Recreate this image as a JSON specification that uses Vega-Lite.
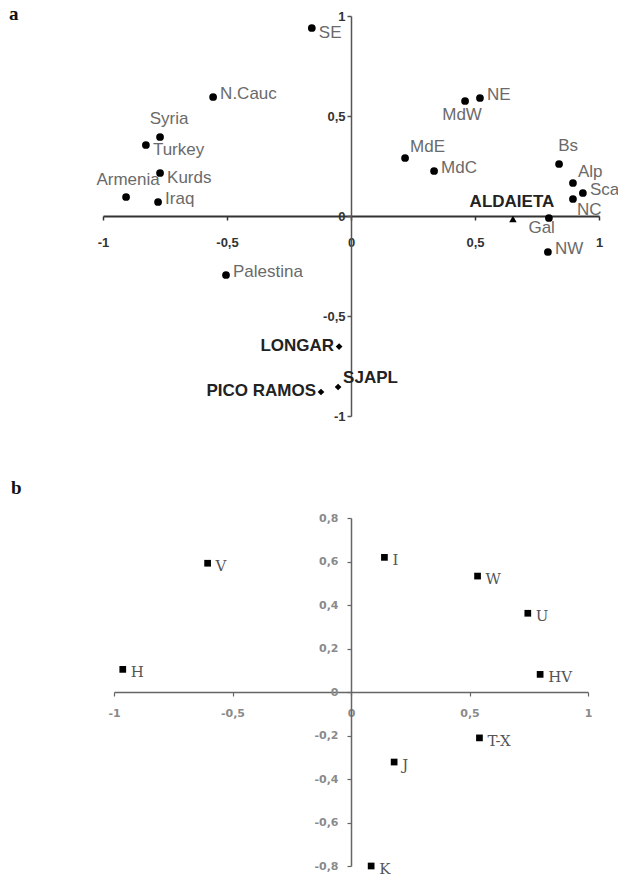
{
  "$schema": "https://vega.github.io/schema/vega-lite/v6.json",
  "background": "white",
  "padding": {"left": 9, "top": 5, "right": 0, "bottom": 0},
  "bounds": "flush",
  "center": true,
  "spacing": 102,
  "config": {"view": {"stroke": null}},
  "vconcat": [
    {
      "width": 496,
      "height": 400,
      "title": {"text": "a", "anchor": "start", "frame": "group", "orient": "top", "offset": 0, "dx": -94, "dy": 29, "baseline": "alphabetic", "font": "Liberation Serif", "fontSize": 19, "fontWeight": "bold", "color": "#111"},
      "data": {"values": [
        {"name": "SE", "x": -0.158, "y": 0.94, "grp": "pop"},
        {"name": "N.Cauc", "x": -0.556, "y": 0.595, "grp": "pop"},
        {"name": "Syria", "x": -0.77, "y": 0.395, "grp": "pop"},
        {"name": "Turkey", "x": -0.827, "y": 0.355, "grp": "pop"},
        {"name": "Kurds", "x": -0.77, "y": 0.215, "grp": "pop"},
        {"name": "Armenia", "x": -0.907, "y": 0.095, "grp": "pop"},
        {"name": "Iraq", "x": -0.778, "y": 0.07, "grp": "pop"},
        {"name": "Palestina", "x": -0.504, "y": -0.295, "grp": "pop"},
        {"name": "MdE", "x": 0.218, "y": 0.29, "grp": "pop"},
        {"name": "MdC", "x": 0.335, "y": 0.225, "grp": "pop"},
        {"name": "MdW", "x": 0.46, "y": 0.575, "grp": "pop"},
        {"name": "NE", "x": 0.52, "y": 0.59, "grp": "pop"},
        {"name": "Bs", "x": 0.839, "y": 0.26, "grp": "pop"},
        {"name": "Alp", "x": 0.895, "y": 0.165, "grp": "pop"},
        {"name": "Sca", "x": 0.935, "y": 0.115, "grp": "pop"},
        {"name": "NC", "x": 0.895, "y": 0.085, "grp": "pop"},
        {"name": "Gal", "x": 0.798, "y": -0.01, "grp": "pop"},
        {"name": "NW", "x": 0.794, "y": -0.18, "grp": "pop"},
        {"name": "ALDAIETA", "x": 0.653, "y": -0.015, "grp": "aldaieta"},
        {"name": "LONGAR", "x": -0.048, "y": -0.653, "grp": "site"},
        {"name": "PICO RAMOS", "x": -0.121, "y": -0.88, "grp": "site"},
        {"name": "SJAPL", "x": -0.052, "y": -0.855, "grp": "site"}
      ]},
      "encoding": {
        "x": {"field": "x", "type": "quantitative", "scale": {"domain": [-1, 1], "nice": false, "zero": false},
          "axis": {"orient": "bottom", "offset": -200, "values": [-1, -0.5, 0, 0.5, 1], "title": null, "grid": false,
            "domainColor": "#333", "domainWidth": 2, "tickColor": "#333", "tickWidth": 1.5, "tickSize": 4,
            "labelExpr": "replace(toString(datum.value), '.', ',')", "labelFont": "Liberation Sans", "labelFontSize": 13, "labelFontWeight": "bold", "labelColor": "#333",
            "labelPadding": 16, "labelFlush": false, "labelOverlap": false}},
        "y": {"field": "y", "type": "quantitative", "scale": {"domain": [-1, 1], "nice": false, "zero": false},
          "axis": {"orient": "left", "offset": -248, "values": [-1, -0.5, 0, 0.5, 1], "title": null, "grid": false,
            "domainColor": "#555", "domainWidth": 1.5, "tickColor": "#555", "tickWidth": 1.5, "tickSize": 4,
            "labelExpr": "replace(toString(datum.value), '.', ',')", "labelFont": "Liberation Sans", "labelFontSize": 13, "labelFontWeight": "bold", "labelColor": "#333",
            "labelPadding": 2, "labelFlush": false, "labelOverlap": false}}
      },
      "layer": [
        {"transform": [{"filter": "datum.grp == 'pop'"}], "mark": {"type": "point", "shape": "circle", "filled": true, "size": 60, "color": "#000", "opacity": 1}},
        {"transform": [{"filter": "datum.grp == 'aldaieta'"}], "mark": {"type": "point", "shape": "triangle-up", "filled": true, "size": 55, "color": "#000", "opacity": 1}},
        {"transform": [{"filter": "datum.grp == 'site'"}], "mark": {"type": "point", "shape": "diamond", "filled": true, "size": 45, "color": "#000", "opacity": 1}},
        {"transform": [{"filter": {"field": "name", "oneOf": ["N.Cauc", "Iraq", "Palestina", "MdC", "NE", "Sca", "NW"]}}],
          "mark": {"type": "text", "align": "left", "baseline": "middle", "dx": 7, "dy": -3, "font": "Liberation Sans", "fontSize": 17, "color": "#6a6a6a"},
          "encoding": {"text": {"field": "name"}}},
        {"transform": [{"filter": {"field": "name", "oneOf": ["SE", "Kurds", "Turkey"]}}],
          "mark": {"type": "text", "align": "left", "baseline": "middle", "dx": 7, "dy": 5, "font": "Liberation Sans", "fontSize": 17, "color": "#6a6a6a"},
          "encoding": {"text": {"field": "name"}}},
        {"transform": [{"filter": {"field": "name", "oneOf": ["MdE", "Alp"]}}],
          "mark": {"type": "text", "align": "left", "baseline": "middle", "dx": 5, "dy": -11, "font": "Liberation Sans", "fontSize": 17, "color": "#6a6a6a"},
          "encoding": {"text": {"field": "name"}}},
        {"transform": [{"filter": {"field": "name", "oneOf": ["NC"]}}],
          "mark": {"type": "text", "align": "left", "baseline": "middle", "dx": 4, "dy": 11, "font": "Liberation Sans", "fontSize": 17, "color": "#6a6a6a"},
          "encoding": {"text": {"field": "name"}}},
        {"transform": [{"filter": {"field": "name", "oneOf": ["Syria", "Bs"]}}],
          "mark": {"type": "text", "align": "center", "baseline": "middle", "dx": 9, "dy": -18, "font": "Liberation Sans", "fontSize": 17, "color": "#6a6a6a"},
          "encoding": {"text": {"field": "name"}}},
        {"transform": [{"filter": {"field": "name", "oneOf": ["Armenia"]}}],
          "mark": {"type": "text", "align": "center", "baseline": "middle", "dx": 2, "dy": -17, "font": "Liberation Sans", "fontSize": 17, "color": "#6a6a6a"},
          "encoding": {"text": {"field": "name"}}},
        {"transform": [{"filter": {"field": "name", "oneOf": ["MdW"]}}],
          "mark": {"type": "text", "align": "center", "baseline": "middle", "dx": -3, "dy": 14, "font": "Liberation Sans", "fontSize": 17, "color": "#6a6a6a"},
          "encoding": {"text": {"field": "name"}}},
        {"transform": [{"filter": {"field": "name", "oneOf": ["Gal"]}}],
          "mark": {"type": "text", "align": "right", "baseline": "middle", "dx": 6, "dy": 10, "font": "Liberation Sans", "fontSize": 17, "color": "#6a6a6a"},
          "encoding": {"text": {"field": "name"}}},
        {"transform": [{"filter": {"field": "name", "oneOf": ["LONGAR", "PICO RAMOS"]}}],
          "mark": {"type": "text", "align": "right", "baseline": "middle", "dx": -5, "dy": -1, "font": "Liberation Sans", "fontSize": 17, "fontWeight": "bold", "color": "#222"},
          "encoding": {"text": {"field": "name"}}},
        {"transform": [{"filter": {"field": "name", "oneOf": ["SJAPL"]}}],
          "mark": {"type": "text", "align": "left", "baseline": "middle", "dx": 5, "dy": -9, "font": "Liberation Sans", "fontSize": 17, "fontWeight": "bold", "color": "#222"},
          "encoding": {"text": {"field": "name"}}},
        {"transform": [{"filter": {"field": "name", "oneOf": ["ALDAIETA"]}}],
          "mark": {"type": "text", "align": "center", "baseline": "middle", "dx": -1, "dy": -17, "font": "Liberation Sans", "fontSize": 17, "fontWeight": "bold", "color": "#222"},
          "encoding": {"text": {"field": "name"}}}
      ]
    },
    {
      "width": 474,
      "height": 348,
      "title": {"text": "b", "anchor": "start", "frame": "group", "orient": "top", "offset": 0, "dx": -103, "dy": 1, "baseline": "alphabetic", "font": "Liberation Serif", "fontSize": 19, "fontWeight": "bold", "color": "#111"},
      "data": {"values": [
        {"name": "V", "x": -0.605, "y": 0.592},
        {"name": "H", "x": -0.963, "y": 0.104},
        {"name": "I", "x": 0.141, "y": 0.619},
        {"name": "W", "x": 0.534, "y": 0.533},
        {"name": "U", "x": 0.746, "y": 0.362},
        {"name": "HV", "x": 0.798, "y": 0.081},
        {"name": "T-X", "x": 0.542, "y": -0.211},
        {"name": "J", "x": 0.182, "y": -0.322},
        {"name": "K", "x": 0.085, "y": -0.8}
      ]},
      "encoding": {
        "x": {"field": "x", "type": "quantitative", "scale": {"domain": [-1, 1], "nice": false, "zero": false},
          "axis": {"orient": "bottom", "offset": -174, "values": [-1, -0.5, 0, 0.5, 1], "title": null, "grid": false,
            "domainColor": "#666", "domainWidth": 1.5, "tickColor": "#666", "tickWidth": 1.2, "tickSize": 4,
            "labelExpr": "replace(toString(datum.value), '.', ',')", "labelFont": "DejaVu Sans", "labelFontSize": 11, "labelFontWeight": "bold", "labelColor": "#8a8a8a",
            "labelPadding": 11, "labelFlush": false, "labelOverlap": false}},
        "y": {"field": "y", "type": "quantitative", "scale": {"domain": [-0.8, 0.8], "nice": false, "zero": false},
          "axis": {"orient": "left", "offset": -237, "values": [-0.8, -0.6, -0.4, -0.2, 0, 0.2, 0.4, 0.6, 0.8], "title": null, "grid": false,
            "domainColor": "#666", "domainWidth": 1.5, "tickColor": "#666", "tickWidth": 1.2, "tickSize": 4,
            "labelExpr": "replace(toString(datum.value), '.', ',')", "labelFont": "DejaVu Sans", "labelFontSize": 11, "labelFontWeight": "bold", "labelColor": "#8a8a8a",
            "labelPadding": 9, "labelFlush": false, "labelOverlap": false}}
      },
      "layer": [
        {"mark": {"type": "point", "shape": "square", "filled": true, "size": 45, "color": "#000", "opacity": 1}},
        {"mark": {"type": "text", "align": "left", "baseline": "middle", "dx": 8, "dy": 3, "font": "DejaVu Serif", "fontSize": 15, "color": "#555"},
          "encoding": {"text": {"field": "name"}}}
      ]
    }
  ]
}
